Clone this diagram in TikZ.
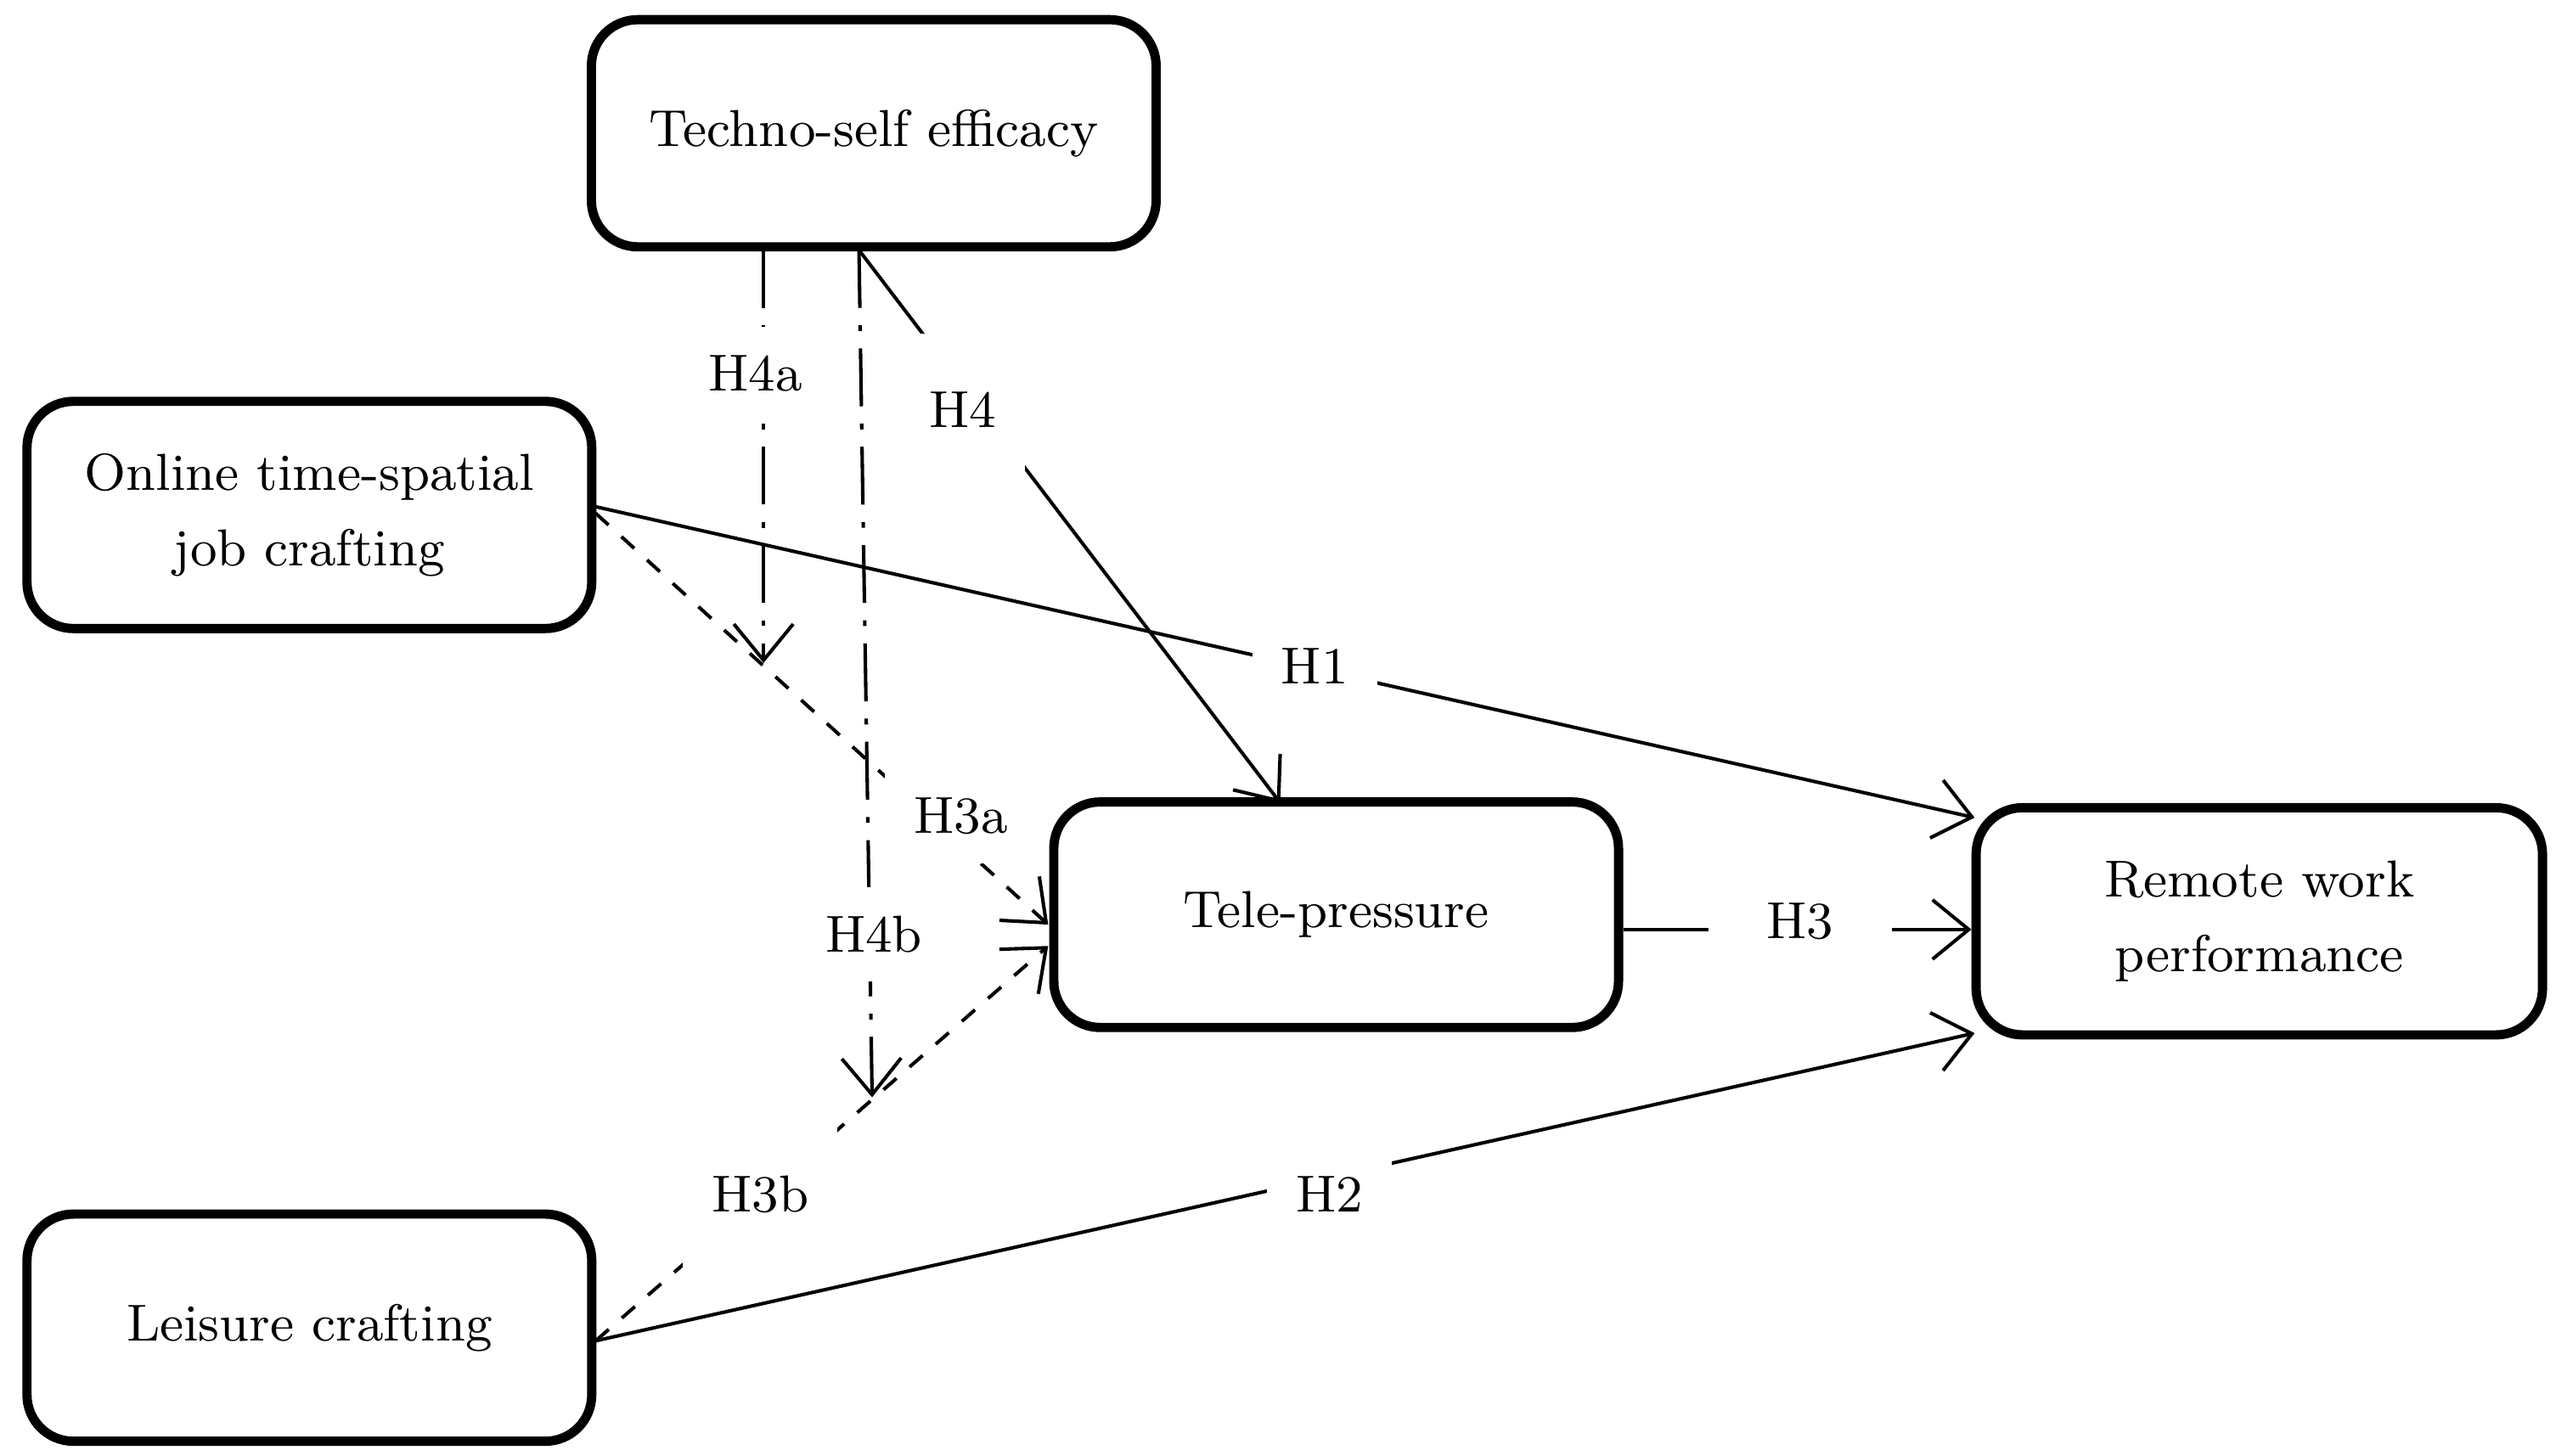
\documentclass[tikz,border=0pt]{standalone}
\usetikzlibrary{arrows.meta}
\begin{document}
\begin{tikzpicture}[x=0.01cm,y=-0.01cm,
  box/.style={draw,line width=1.6pt,rounded corners=8pt,align=center,font=\fontsize{9}{13}\selectfont},
  lab/.style={fill=white,inner sep=5pt,font=\fontsize{9}{11}\selectfont},
  arr/.style={-{Straight Barb[length=2.2mm,width=3.6mm]},line width=0.6pt},
  >={Straight Barb[length=2.2mm,width=3.6mm]}]
\useasboundingbox (0,0) rectangle (1560,885);
\node[box,minimum width=3.43cm,minimum height=1.38cm] (tse) at (531,81) {Techno-self efficacy};
\node[box,minimum width=3.43cm,minimum height=1.38cm] (ots) at (188,313) {Online time-spatial\\job crafting};
\node[box,minimum width=3.43cm,minimum height=1.38cm] (lc) at (188,807) {Leisure crafting};
\node[box,minimum width=3.43cm,minimum height=1.37cm] (tp) at (812,556) {Tele-pressure};
\node[box,minimum width=3.44cm,minimum height=1.38cm] (rwp) at (1373,560) {Remote work\\performance};
\coordinate (a1) at (362,308); \coordinate (b1) at (1200,497);
\coordinate (a2) at (362,815); \coordinate (b2) at (1200,628);
\coordinate (a4) at (522,152); \coordinate (b4) at (778,488);
\coordinate (a4a) at (464,152); \coordinate (b4a) at (464,403);
\coordinate (a4b) at (522,152); \coordinate (b4b) at (530,667);
\coordinate (a3a) at (362,312); \coordinate (b3a) at (637,562);
\coordinate (a3b) at (362,815); \coordinate (b3b) at (637,575);
\draw[arr] (a1) -- (b1);
\draw[arr] (a2) -- (b2);
\draw[arr] (tp.east |- 0,565) -- (rwp.west |- 0,565);
\draw[arr] (a4) -- (b4);
\draw[arr,dash pattern=on 10pt off 3pt on 1pt off 3pt] (a4a) -- (b4a);
\draw[arr,dash pattern=on 10pt off 3pt on 1pt off 3pt] (a4b) -- (b4b);
\draw[arr,dashed] (a3a) -- (b3a);
\draw[arr,dashed] (a3b) -- (b3b);
\node[lab] (h1) at (799,405) {H1};
\node[lab] (h2) at (808,726) {H2};
\node[lab,inner xsep=10pt] (h3) at (1094,560) {H3};
\node[lab,inner ysep=10pt] (h4) at (585,249) {H4};
\node[lab] (h4a) at (459,227) {H4a};
\node[lab] (h4b) at (531,568) {H4b};
\node[lab] (h3a) at (584,496) {H3a};
\node[lab,inner ysep=10pt] (h3b) at (462,726) {H3b};
\end{tikzpicture}
\end{document}
